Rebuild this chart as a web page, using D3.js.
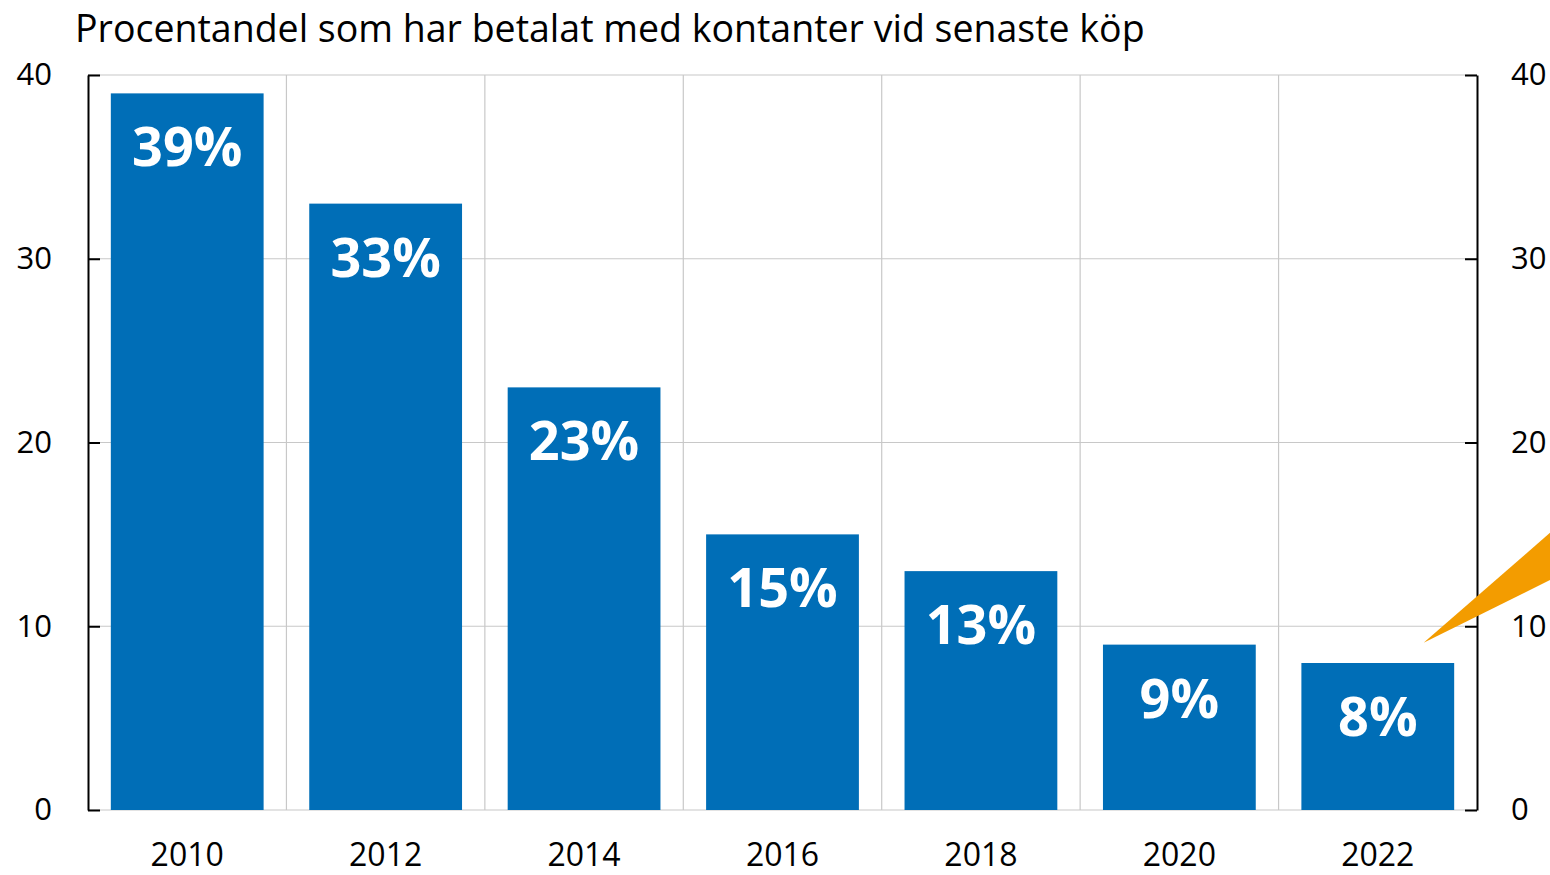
<!DOCTYPE html>
<html>
<head>
<meta charset="utf-8">
<script src="https://cdn.jsdelivr.net/npm/d3@7"></script>
<style>
  body { margin: 0; background: #fff; }
  text { font-family: "Open Sans", sans-serif; }
</style>
</head>
<body>
<div id="chart-area"></div>
<script>
// data
var years = ["2010", "2012", "2014", "2016", "2018", "2020", "2022"]
var cashShare = [39, 33, 23, 15, 13, 9, 8]
var yTicks = [0, 10, 20, 30, 40]
var title = "Procentandel som har betalat med kontanter vid senaste köp"

var margin = { top: 75, right: 73, bottom: 65, left: 88 }
var width = 1550 - margin.left - margin.right
var height = 875 - margin.top - margin.bottom

var svg = d3.select("#chart-area")
  .append("svg")
  .attr("width", 1550)
  .attr("height", 875)

var g = svg.append("g")
  .attr("transform", `translate(${margin.left}, ${margin.top})`)

var x = d3.scaleBand()
  .domain(years)
  .range([0, width])
  .paddingInner(0.23)
  .paddingOuter(0.115)

var y = d3.scaleLinear().domain([0, 40]).range([height, 0])

// grid
g.selectAll(".hgrid")
  .data(yTicks)
  .enter().append("line")
  .attr("class", "hgrid")
  .attr("x1", 0).attr("x2", width)
  .attr("y1", (d) => y(d)).attr("y2", (d) => y(d))
  .attr("stroke", "#c8c8c8")
  .attr("stroke-width", 1.2)

var step = x.step()
g.selectAll(".vgrid")
  .data(years.slice(1))
  .enter().append("line")
  .attr("class", "vgrid")
  .attr("x1", (d) => x(d) - step * x.paddingInner() / 2)
  .attr("x2", (d) => x(d) - step * x.paddingInner() / 2)
  .attr("y1", 0).attr("y2", height)
  .attr("stroke", "#c8c8c8")
  .attr("stroke-width", 1.2)

// bars
g.selectAll("rect.bar")
  .data(cashShare)
  .enter().append("rect")
  .attr("class", "bar")
  .attr("x", (d, i) => x(years[i]))
  .attr("y", (d) => y(d))
  .attr("width", x.bandwidth())
  .attr("height", (d) => height - y(d))
  .attr("fill", "#006eb7")

g.selectAll("text.val")
  .data(cashShare)
  .enter().append("text")
  .attr("class", "val")
  .attr("x", (d, i) => x(years[i]) + x.bandwidth() / 2)
  .attr("y", (d) => y(d) + 73)
  .attr("text-anchor", "middle")
  .attr("font-size", "54px")
  .attr("font-weight", "bold")
  .attr("fill", "#fff")
  .text((d) => d + "%")

// axes
var leftAxis = d3.axisLeft(y).tickValues(yTicks).tickSizeInner(-12).tickSizeOuter(0).tickPadding(36)
var rightAxis = d3.axisRight(y).tickValues(yTicks).tickSizeInner(-12).tickSizeOuter(0).tickPadding(34)

var yl = g.append("g").attr("class", "left axis").call(leftAxis)
var yr = g.append("g").attr("class", "right axis")
  .attr("transform", "translate(" + width + ",0)")
  .call(rightAxis)

;[yl, yr].forEach((ax) => {
  ax.select(".domain").attr("stroke", "#000").attr("stroke-width", 2)
  ax.selectAll(".tick line").attr("stroke", "#000").attr("stroke-width", 2)
  ax.selectAll(".tick text")
    .attr("font-size", "31px")
    .attr("fill", "#000")
    .attr("font-family", "Open Sans")
})

g.selectAll("text.year")
  .data(years)
  .enter().append("text")
  .attr("class", "year")
  .attr("x", (d) => x(d) + x.bandwidth() / 2)
  .attr("y", height + 56)
  .attr("text-anchor", "middle")
  .attr("font-size", "32px")
  .attr("fill", "#000")
  .text((d) => d)

// title
svg.append("text")
  .attr("x", 75)
  .attr("y", 42)
  .attr("font-size", "37.5px")
  .attr("fill", "#000")
  .text(title)

// orange callout pointer, clipped at the page edge
var tipX = x("2022") + x.bandwidth() * 0.8
var tipY = y(9.1)
svg.append("polygon")
  .attr("points", [
    [margin.left + tipX, margin.top + tipY],
    [1552, 531],
    [1552, 579]
  ].map((p) => p.join(",")).join(" "))
  .attr("fill", "#f39c00")
</script>
</body>
</html>
